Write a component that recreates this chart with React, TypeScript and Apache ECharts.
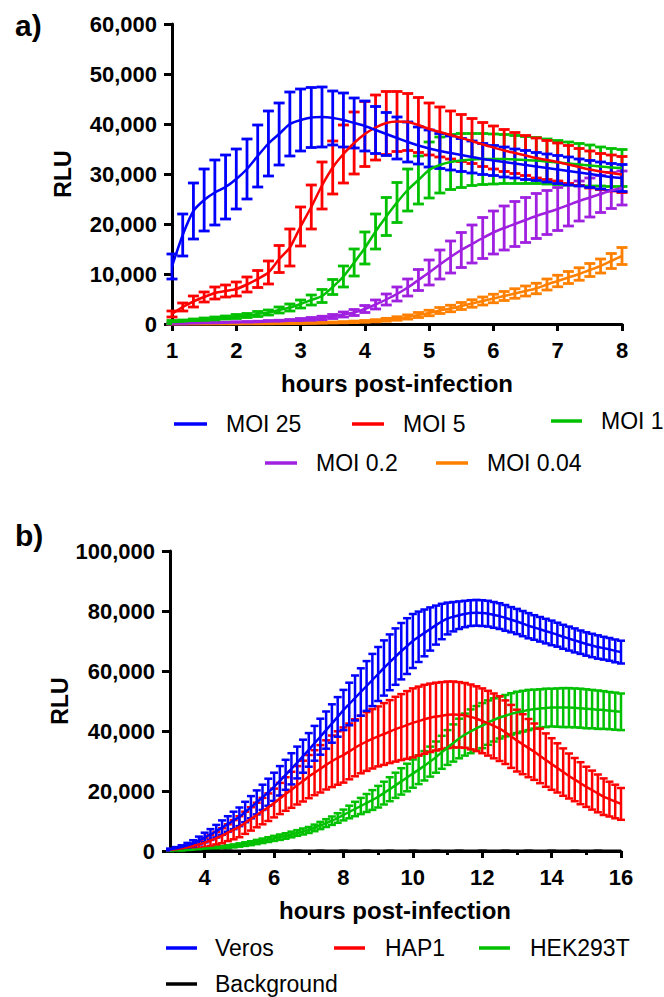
import React, { useEffect, useRef } from "react";
import * as echarts from "echarts";

const FONT = '"Liberation Sans", Arial, Helvetica, sans-serif';

// ---------- Panel a: time points (minutes post-infection) ----------
const TIME_A_MIN = [
  60, 70, 80, 90, 100, 110, 120, 130, 140, 150, 160, 170, 180, 190, 200, 210,
  220, 230, 240, 250, 260, 270, 280, 290, 300, 310, 320, 330, 340, 350, 360,
  370, 380, 390, 400, 410, 420, 430, 440, 450, 460, 470, 480,
];

const MOI25 = [11500, 17800, 22600, 24800, 26300, 27400, 29000, 31000, 33600, 36100, 38000, 40000, 40800, 41300, 41400, 41200, 40800, 40200, 39600, 38800, 38000, 37200, 36400, 35700, 35100, 34600, 34200, 33800, 33400, 33000, 32700, 32400, 32100, 31800, 31500, 31200, 30900, 30600, 30300, 30000, 29700, 29400, 29200];
const MOI25_ERR = [2500, 4200, 5600, 6200, 6500, 6400, 6000, 6000, 6200, 6500, 6200, 6400, 6200, 6000, 6000, 5400, 5400, 5000, 5000, 4700, 4300, 4200, 4000, 3700, 3700, 3500, 3400, 3300, 3200, 3100, 3000, 3000, 2900, 2900, 2800, 2800, 2800, 2800, 2700, 2700, 2700, 2700, 2700];
const MOI5 = [2000, 3400, 4500, 5400, 6200, 6600, 7000, 7900, 9000, 10300, 13000, 15300, 19500, 23400, 27700, 31300, 34000, 36200, 38000, 39300, 40200, 40500, 40400, 39800, 39000, 38400, 37800, 37200, 36600, 35900, 35300, 34700, 34200, 33700, 33200, 32800, 32400, 31900, 31400, 30900, 30500, 30200, 29900];
const MOI5_ERR = [600, 800, 1100, 1000, 1200, 1200, 1400, 1500, 1700, 2300, 2700, 3700, 3900, 4400, 4700, 5300, 5800, 6200, 6500, 6500, 6300, 6000, 5700, 5500, 5200, 5000, 4800, 4700, 4500, 4400, 4300, 4200, 4100, 4000, 4000, 3900, 3800, 3800, 3700, 3700, 3600, 3600, 3600];
const MOI1 = [400, 500, 700, 900, 1100, 1300, 1500, 1700, 2000, 2300, 2800, 3300, 4000, 4800, 5600, 7400, 9500, 12300, 15200, 18500, 21500, 24300, 26800, 28800, 30800, 31800, 32400, 32700, 32900, 33000, 33000, 33000, 32900, 32800, 32700, 32500, 32300, 32100, 31900, 31700, 31500, 31300, 31200];
const MOI1_ERR = [300, 300, 300, 300, 300, 300, 400, 400, 500, 500, 600, 700, 800, 1000, 1300, 1500, 2100, 2700, 3200, 3500, 3800, 4000, 4200, 4800, 5600, 5600, 5500, 5400, 5200, 5100, 5000, 4900, 4800, 4700, 4600, 4500, 4400, 4300, 4200, 4100, 3900, 3800, 3700];
const MOI02 = [100, 100, 150, 200, 200, 250, 300, 350, 400, 500, 550, 650, 800, 1000, 1200, 1500, 1900, 2300, 3000, 3900, 4900, 6000, 7300, 8800, 10300, 11900, 13400, 14800, 16000, 17200, 18300, 19200, 20000, 20800, 21600, 22300, 23000, 23800, 24600, 25300, 26000, 26700, 27200];
const MOI02_ERR = [100, 100, 100, 100, 120, 120, 150, 150, 150, 200, 200, 250, 300, 300, 350, 400, 500, 600, 700, 900, 1100, 1400, 1700, 2100, 2500, 2900, 3200, 3500, 3800, 4100, 4300, 4400, 4500, 4500, 4500, 4400, 4300, 4200, 4000, 3900, 3700, 3600, 3400];
const MOI004 = [50, 50, 50, 50, 60, 60, 70, 80, 90, 100, 120, 140, 170, 200, 240, 300, 360, 430, 520, 650, 850, 1100, 1400, 1800, 2200, 2700, 3100, 3600, 4100, 4600, 5100, 5600, 6100, 6600, 7100, 7900, 8600, 9300, 10000, 10800, 11600, 12600, 13600];
const MOI004_ERR = [50, 50, 50, 50, 50, 50, 50, 50, 60, 60, 60, 70, 70, 80, 90, 100, 120, 150, 180, 220, 280, 350, 420, 500, 550, 600, 650, 700, 750, 800, 850, 900, 950, 1000, 1050, 1100, 1150, 1200, 1250, 1300, 1400, 1500, 1700];

// ---------- Panel b: time points (minutes post-infection) ----------
const TIME_B_MIN = [
  180, 190, 200, 210, 220, 230, 240, 250, 260, 270, 280, 290, 300, 310, 320,
  330, 340, 350, 360, 370, 380, 390, 400, 410, 420, 430, 440, 450, 460, 470,
  480, 490, 500, 510, 520, 530, 540, 550, 560, 570, 580, 590, 600, 610, 620,
  630, 640, 650, 660, 670, 680, 690, 700, 710, 720, 730, 740, 750, 760, 770,
  780, 790, 800, 810, 820, 830, 840, 850, 860, 870, 880, 890, 900, 910, 920,
  930, 940, 950, 960,
];

const VEROS = [
  500, 900, 1300, 1900, 2600, 3500,
  4500, 5500, 6600, 7800, 9000, 10200,
  11400, 13000, 14600, 16200, 17900, 19600,
  21400, 23400, 25400, 27400, 29500, 31600,
  33700, 35900, 38100, 40300, 42500, 44700,
  47000, 49000, 51000, 53000, 55000, 57000,
  59000, 61000, 62900, 64800, 66600, 68300,
  70000, 71400, 72700, 74000, 75300, 76500,
  77500, 78100, 78600, 79000, 79300, 79400,
  79300, 79100, 78700, 78300, 77700, 77100,
  76500, 75800, 75100, 74500, 73900, 73300,
  72700, 72100, 71400, 70800, 70200, 69600,
  69000, 68500, 68000, 67600, 67200, 66700,
  66300,
];
const VEROS_ERR = [
  300, 400, 600, 800, 1000, 1300,
  1600, 1800, 2100, 2400, 2600, 2900,
  3100, 3400, 3700, 4000, 4200, 4500,
  4700, 4900, 5000, 5200, 5300, 5500,
  5600, 5800, 6000, 6200, 6400, 6600,
  6700, 7100, 7500, 7900, 8300, 8700,
  9000, 9200, 9300, 9400, 9400, 9300,
  9000, 8400, 7800, 7200, 6500, 5900,
  5300, 4900, 4600, 4400, 4300, 4300,
  4300, 4300, 4300, 4300, 4300, 4200,
  4200, 4200, 4200, 4100, 4100, 4100,
  4100, 4000, 4000, 4000, 4000, 3900,
  3900, 3900, 3900, 3800, 3800, 3800,
  3800,
];
const HAP1 = [
  400, 600, 900, 1200, 1700, 2200,
  2800, 3500, 4300, 5100, 6100, 7100,
  8100, 9400, 10700, 12000, 13300, 14600,
  16000, 17500, 19000, 20400, 21900, 23300,
  24800, 26100, 27400, 28700, 29900, 31000,
  32000, 33200, 34400, 35500, 36500, 37400,
  38200, 39000, 39800, 40600, 41300, 42000,
  42700, 43300, 43900, 44400, 44800, 45100,
  45400, 45500, 45400, 45200, 44700, 44100,
  43400, 42600, 41700, 40800, 39600, 38200,
  36800, 35600, 34300, 33100, 31700, 30300,
  29000, 27700, 26300, 25000, 23800, 22600,
  21400, 20300, 19200, 18100, 17300, 16500,
  15700,
];
const HAP1_ERR = [
  200, 300, 400, 600, 800, 1100,
  1500, 1800, 2100, 2500, 2800, 3200,
  3500, 3700, 3900, 4100, 4400, 4600,
  4800, 5200, 5600, 6000, 6400, 6800,
  7200, 7500, 7900, 8200, 8600, 8900,
  9200, 9300, 9500, 9600, 9800, 9900,
  10000, 10300, 10500, 10800, 11000, 11300,
  11500, 11500, 11500, 11400, 11300, 11200,
  11100, 11000, 10900, 10800, 10800, 10800,
  10800, 10800, 10800, 10800, 10600, 10500,
  10300, 10000, 9700, 9400, 9100, 8900,
  8600, 8200, 7900, 7500, 7200, 7000,
  6700, 6500, 6300, 6100, 5800, 5600,
  5300,
];
const HEK293T = [
  100, 150, 200, 300, 400, 600,
  800, 1000, 1150, 1300, 1500, 1700,
  2000, 2300, 2600, 3000, 3400, 3800,
  4200, 4600, 5000, 5500, 6000, 6500,
  7000, 7700, 8500, 9300, 10100, 11000,
  12000, 13000, 14000, 15000, 16000, 17000,
  18100, 19300, 20600, 21900, 23200, 24500,
  25800, 27100, 28400, 29800, 31300, 32900,
  34500, 36000, 37500, 38800, 39900, 40900,
  41800, 42800, 43700, 44500, 45100, 45700,
  46200, 46600, 47000, 47300, 47500, 47700,
  47800, 47800, 47800, 47800, 47700, 47600,
  47400, 47300, 47100, 47000, 46800, 46600,
  46400,
];
const HEK293T_ERR = [
  100, 100, 150, 150, 200, 250,
  300, 350, 400, 400, 450, 500,
  550, 600, 650, 700, 750, 800,
  850, 900, 900, 950, 950, 1000,
  1000, 1100, 1200, 1300, 1400, 1600,
  1800, 2100, 2400, 2700, 3000, 3300,
  3600, 3800, 4000, 4200, 4400, 4600,
  4700, 4800, 4900, 5000, 5200, 5500,
  5800, 6200, 6600, 7000, 7300, 7400,
  7500, 7400, 7200, 7000, 6900, 6900,
  6900, 6800, 6700, 6500, 6400, 6400,
  6300, 6400, 6500, 6500, 6500, 6500,
  6500, 6400, 6400, 6300, 6200, 6200,
  6100,
];
const BACKGROUND = [
  120, 110, 130, 120, 110, 120,
  130, 120, 110, 120, 130, 120,
  110, 120, 130, 120, 110, 120,
  130, 120, 110, 120, 130, 120,
  110, 120, 130, 120, 110, 120,
  130, 120, 110, 120, 130, 120,
  110, 120, 130, 120, 110, 120,
  130, 120, 110, 120, 130, 120,
  110, 120, 130, 120, 110, 120,
  130, 120, 110, 120, 130, 120,
  110, 120, 130, 120, 110, 120,
  130, 120, 110, 120, 130, 120,
  110, 120, 130, 120, 110, 120,
  120,
];

// ---------- tick labels ----------
const X_TICKS_A = [1, 2, 3, 4, 5, 6, 7, 8];
const X_LABELS_B = [4, 6, 8, 10, 12, 14, 16];
const X_MINOR_B = [5, 7, 9, 11, 13, 15];

const BLUE = "#0000ff";
const RED = "#ff0000";
const GREEN = "#00c000";
const PURPLE = "#a020e0";
const ORANGE = "#ff8000";
const BLACK = "#000000";

const toHours = (m: number[]) => m.map((v) => v / 60);
const fmt = (v: number) => String(v).replace(/\B(?=(\d{3})+(?!\d))/g, ",");

function errRender(capHalf: number, lw: number) {
  return (_params: any, api: any) => {
    const x = api.value(0);
    const lo = api.value(1);
    const hi = api.value(2);
    const a = api.coord([x, hi]);
    const b = api.coord([x, lo]);
    const color = api.visual("color");
    const style = { stroke: color, lineWidth: lw, fill: null };
    return {
      type: "group",
      children: [
        { type: "line", shape: { x1: a[0], y1: a[1], x2: b[0], y2: b[1] }, style },
        { type: "line", shape: { x1: a[0] - capHalf, y1: a[1], x2: a[0] + capHalf, y2: a[1] }, style },
        { type: "line", shape: { x1: b[0] - capHalf, y1: b[1], x2: b[0] + capHalf, y2: b[1] }, style },
      ],
    };
  };
}

function makeSeries(
  idx: number,
  t: number[],
  v: number[],
  e: number[] | null,
  color: string,
  name: string,
  cap: number,
  lw: number
) {
  const out: any[] = [];
  if (e) {
    out.push({
      type: "custom",
      name: name + " SEM",
      xAxisIndex: idx === 0 ? 0 : 1,
      yAxisIndex: idx,
      itemStyle: { color },
      renderItem: errRender(cap, lw),
      encode: { x: 0, y: [1, 2] },
      data: t.map((x, i) => [x, Math.max(0, v[i] - e[i]), v[i] + e[i]]),
      silent: true,
    });
  }
  out.push({
    type: "line",
    name,
    xAxisIndex: idx === 0 ? 0 : 1,
    yAxisIndex: idx,
    data: t.map((x, i) => [x, v[i]]),
    showSymbol: false,
    symbol: "none",
    smooth: 0.25,
    lineStyle: { color, width: 2.5 },
    itemStyle: { color },
    silent: true,
  });
  return out;
}

const axisCommon = {
  axisLine: { show: true, onZero: false, lineStyle: { color: "#000", width: 3 } },
  splitLine: { show: false },
};

export default function App() {
  const ref = useRef<HTMLDivElement>(null);

  useEffect(() => {
    if (!ref.current) return;
    const chart = echarts.init(ref.current, undefined, { renderer: "svg" });
    const tA = toHours(TIME_A_MIN);
    const tB = toHours(TIME_B_MIN);

    const series = [
      ...makeSeries(0, tA, MOI004, MOI004_ERR, ORANGE, "MOI 0.04", 5.5, 2.8),
      ...makeSeries(0, tA, MOI02, MOI02_ERR, PURPLE, "MOI 0.2", 5.5, 2.8),
      ...makeSeries(0, tA, MOI1, MOI1_ERR, GREEN, "MOI 1", 5.5, 2.8),
      ...makeSeries(0, tA, MOI5, MOI5_ERR, RED, "MOI 5", 5.5, 2.8),
      ...makeSeries(0, tA, MOI25, MOI25_ERR, BLUE, "MOI 25", 5.5, 2.8),
      ...makeSeries(1, tB, BACKGROUND, null, BLACK, "Background", 4, 2.5),
      ...makeSeries(1, tB, HEK293T, HEK293T_ERR, GREEN, "HEK293T", 4, 2.5),
      ...makeSeries(1, tB, HAP1, HAP1_ERR, RED, "HAP1", 4, 2.5),
      ...makeSeries(1, tB, VEROS, VEROS_ERR, BLUE, "Veros", 4, 2.5),
    ];

    const labelStyle = { color: "#000", fontSize: 22, fontWeight: "bold", fontFamily: FONT };
    const legendText = (x: number, y: number, text: string) => ({
      type: "text",
      x,
      y,
      style: { text, fill: "#000", fontSize: 23, fontFamily: FONT, align: "left", verticalAlign: "middle" },
    });
    const legendLine = (x1: number, x2: number, y: number, color: string) => ({
      type: "line",
      shape: { x1, y1: y, x2, y2: y },
      style: { stroke: color, lineWidth: 3.5 },
    });
    const boldText = (x: number, y: number, text: string, size: number, rot = 0, align = "center") => ({
      type: "text",
      x,
      y,
      rotation: rot,
      style: { text, fill: "#000", fontSize: size, fontWeight: "bold", fontFamily: FONT, align, verticalAlign: "middle" },
    });

    chart.setOption({
      animation: false,
      backgroundColor: "#ffffff",
      grid: [
        { left: 172, top: 24, width: 450, height: 300, containLabel: false, outerBoundsMode: "none" },
        { left: 170, top: 551, width: 451, height: 300, containLabel: false, outerBoundsMode: "none" },
      ],
      xAxis: [
        {
          ...axisCommon,
          type: "value",
          gridIndex: 0,
          min: 1,
          max: 8,
          interval: 1,
          axisTick: { show: true, length: 7, lineStyle: { color: "#000", width: 3 }, customValues: X_TICKS_A },
          axisLabel: { ...labelStyle, margin: 15, customValues: X_TICKS_A },
        },
        {
          ...axisCommon,
          type: "value",
          gridIndex: 1,
          min: 3,
          max: 16,
          position: "bottom",
          axisTick: { show: true, length: 7, lineStyle: { color: "#000", width: 3 }, customValues: X_LABELS_B },
          axisLabel: { ...labelStyle, margin: 15, customValues: X_LABELS_B },
        },
        {
          type: "value",
          gridIndex: 1,
          min: 3,
          max: 16,
          position: "bottom",
          axisLine: { show: false },
          splitLine: { show: false },
          axisLabel: { show: false },
          axisTick: { show: true, length: 4, lineStyle: { color: "#000", width: 3 }, customValues: X_MINOR_B },
        },
      ],
      yAxis: [
        {
          ...axisCommon,
          type: "value",
          gridIndex: 0,
          min: 0,
          max: 60000,
          interval: 10000,
          axisTick: { show: true, length: 8, lineStyle: { color: "#000", width: 3 } },
          axisLabel: { ...labelStyle, margin: 15, formatter: (v: number) => fmt(v) },
        },
        {
          ...axisCommon,
          type: "value",
          gridIndex: 1,
          min: 0,
          max: 100000,
          interval: 20000,
          axisTick: { show: true, length: 8, lineStyle: { color: "#000", width: 3 } },
          axisLabel: { ...labelStyle, margin: 15, formatter: (v: number) => fmt(v) },
        },
      ],
      series,
      graphic: [
        boldText(15, 25, "a)", 30, 0, "left"),
        boldText(15, 535, "b)", 30, 0, "left"),
        boldText(63, 174, "RLU", 23, Math.PI / 2),
        boldText(60, 701, "RLU", 23, Math.PI / 2),
        boldText(397, 383, "hours post-infection", 24),
        boldText(395, 910, "hours post-infection", 24),
        legendLine(174, 207, 424, BLUE),
        legendText(226, 424, "MOI 25"),
        legendLine(352, 384, 424, RED),
        legendText(403, 424, "MOI 5"),
        legendLine(551, 582, 421, GREEN),
        legendText(601, 421, "MOI 1"),
        legendLine(265, 297, 463, PURPLE),
        legendText(316, 463, "MOI 0.2"),
        legendLine(436, 468, 463, ORANGE),
        legendText(487, 463, "MOI 0.04"),
        legendLine(166, 197, 948, BLUE),
        legendText(215, 948, "Veros"),
        legendLine(334, 365, 948, RED),
        legendText(385, 948, "HAP1"),
        legendLine(479, 510, 948, GREEN),
        legendText(530, 948, "HEK293T"),
        legendLine(166, 197, 984, BLACK),
        legendText(215, 984, "Background"),
      ],
    });

    return () => {
      chart.dispose();
    };
  }, []);

  return (
    <div
      ref={ref}
      style={{ position: "fixed", left: 0, top: 0, width: 664, height: 997, background: "#fff" }}
    />
  );
}
